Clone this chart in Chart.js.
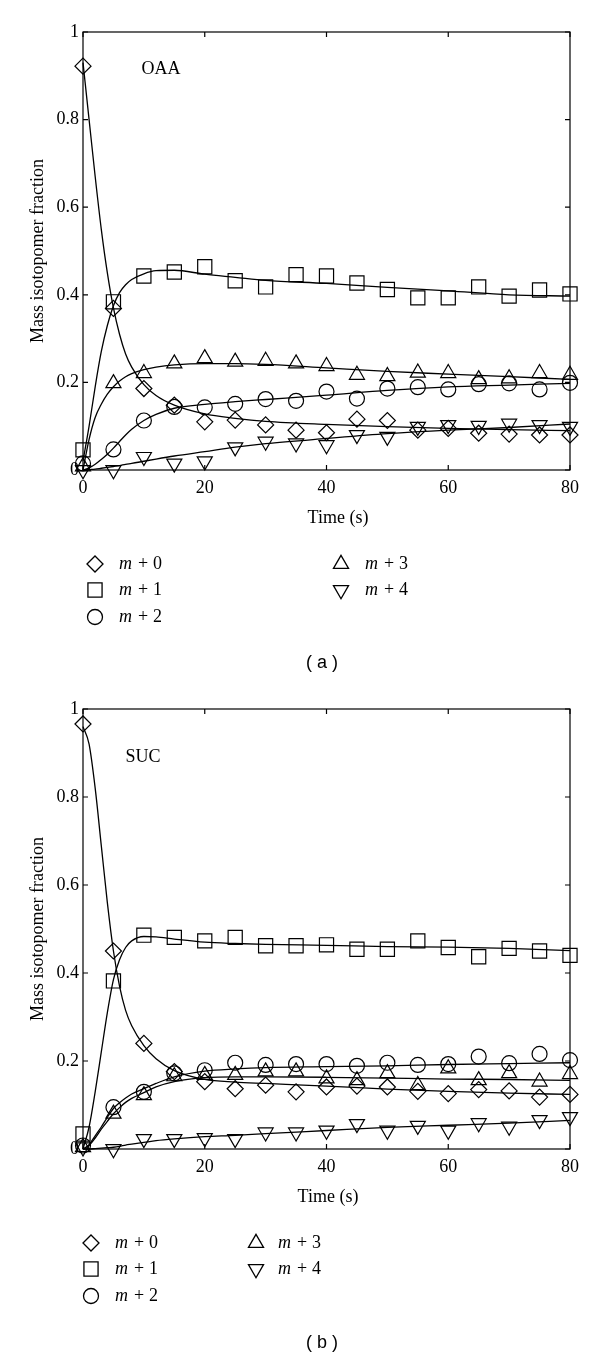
<!DOCTYPE html>
<html><head><meta charset="utf-8">
<script src="https://cdn.jsdelivr.net/npm/chart.js@4.4.0/dist/chart.umd.min.js"></script>
<style>
html,body{margin:0;padding:0;background:#fff;}
#wrap{position:relative;width:600px;height:1357px;}
.box{position:absolute;left:0;width:600px;}
</style></head><body>
<div id="wrap">
<div class="box" style="top:0;height:680px"><canvas id="ca"></canvas></div>
<div class="box" style="top:680px;height:677px"><canvas id="cb"></canvas></div>
</div>
<script>
// ---- data ----
const timePoints = [0,5,10,15,20,25,30,35,40,45,50,55,60,65,70,75,80];
const fitTimes = [0,1,2,3,4,5,6,7,8,10,12,15,20,25,30,40,50,60,70,80];
const seriesLabels = ['m + 0','m + 1','m + 2','m + 3','m + 4'];
const xTickValues = [0,20,40,60,80];
const yTickValues = [0,0.2,0.4,0.6,0.8,1];

// (a) OAA measured
const oaaM0 = [0.922,0.369,0.186,0.148,0.110,0.114,0.103,0.091,0.085,0.116,0.113,0.091,0.095,0.084,0.082,0.080,0.080];
const oaaM1 = [0.046,0.384,0.443,0.452,0.464,0.432,0.418,0.446,0.443,0.427,0.412,0.393,0.393,0.418,0.397,0.411,0.402];
const oaaM2 = [0.015,0.047,0.113,0.144,0.143,0.151,0.162,0.158,0.179,0.163,0.186,0.189,0.184,0.196,0.198,0.184,0.199];
const oaaM3 = [0.008,0.198,0.221,0.243,0.255,0.247,0.249,0.243,0.237,0.217,0.214,0.222,0.221,0.207,0.209,0.221,0.217];
const oaaM4 = [0.000,0.000,0.030,0.015,0.020,0.052,0.065,0.061,0.057,0.080,0.076,0.099,0.103,0.101,0.106,0.103,0.099];
// (a) OAA fitted curves
const oaaFit0 = [0.93,0.80,0.67,0.55,0.45,0.37,0.31,0.265,0.235,0.195,0.17,0.148,0.128,0.118,0.111,0.104,0.099,0.095,0.092,0.090];
const oaaFit1 = [0.02,0.10,0.19,0.27,0.33,0.375,0.405,0.423,0.435,0.448,0.455,0.456,0.447,0.44,0.433,0.426,0.417,0.409,0.400,0.397];
const oaaFit2 = [0,0.005,0.013,0.024,0.036,0.05,0.065,0.08,0.093,0.113,0.127,0.141,0.15,0.156,0.161,0.171,0.182,0.19,0.194,0.198];
const oaaFit3 = [0,0.07,0.12,0.15,0.173,0.19,0.203,0.213,0.22,0.229,0.235,0.24,0.243,0.243,0.241,0.233,0.225,0.219,0.213,0.207];
const oaaFit4 = [0,0.001,0.002,0.004,0.006,0.008,0.01,0.013,0.015,0.02,0.025,0.032,0.042,0.052,0.06,0.072,0.083,0.091,0.097,0.105];

// (b) SUC measured
const sucM0 = [0.966,0.450,0.240,0.176,0.153,0.137,0.145,0.130,0.141,0.143,0.141,0.131,0.126,0.135,0.132,0.118,0.124];
const sucM1 = [0.034,0.382,0.486,0.481,0.473,0.481,0.462,0.462,0.464,0.454,0.454,0.473,0.458,0.437,0.456,0.450,0.440];
const sucM2 = [0.008,0.095,0.130,0.172,0.179,0.196,0.191,0.193,0.193,0.189,0.196,0.191,0.193,0.210,0.195,0.216,0.202];
const sucM3 = [0.004,0.080,0.122,0.165,0.168,0.168,0.176,0.176,0.160,0.156,0.172,0.145,0.183,0.156,0.172,0.153,0.170];
const sucM4 = [0.004,0.000,0.023,0.023,0.025,0.023,0.038,0.038,0.042,0.057,0.042,0.053,0.042,0.059,0.051,0.066,0.073];
// (b) SUC fitted curves
const sucFit0 = [0.96,0.92,0.82,0.69,0.56,0.45,0.37,0.315,0.28,0.235,0.205,0.178,0.158,0.152,0.149,0.143,0.136,0.131,0.127,0.124];
const sucFit1 = [0.0,0.05,0.13,0.22,0.31,0.385,0.43,0.458,0.473,0.483,0.482,0.477,0.47,0.467,0.465,0.463,0.46,0.459,0.456,0.451];
const sucFit2 = [0,0.01,0.03,0.05,0.072,0.092,0.105,0.116,0.125,0.137,0.149,0.164,0.177,0.182,0.185,0.187,0.189,0.192,0.194,0.196];
const sucFit3 = [0,0.008,0.025,0.045,0.063,0.08,0.094,0.106,0.115,0.128,0.141,0.153,0.162,0.164,0.164,0.163,0.161,0.159,0.158,0.156];
const sucFit4 = [0,0,0.001,0.002,0.003,0.004,0.006,0.009,0.011,0.015,0.019,0.023,0.028,0.031,0.035,0.042,0.049,0.054,0.059,0.065];

// ---- styling ----
const SERIF = '"Liberation Serif","Times New Roman",serif';
const markerStyles = [
  {pointStyle:'rectRot', radius:8, rotation:0},
  {pointStyle:'rect', radius:10, rotation:0},
  {pointStyle:'circle', radius:7.5, rotation:0},
  {pointStyle:'triangle', radius:8.7, rotation:0},
  {pointStyle:'triangle', radius:8.7, rotation:180}
];

function pts(xs, ys){ return xs.map((x,i)=>({x:x, y:ys[i]})); }

const framePlugin = {
  id: 'frame',
  afterDraw(chart, args, o) {
    const ctx = chart.ctx, a = chart.chartArea;
    const xs = chart.scales.x, ys = chart.scales.y;
    ctx.save();
    ctx.strokeStyle = '#000'; ctx.lineWidth = 1.2;
    ctx.strokeRect(a.left, a.top, a.right - a.left, a.bottom - a.top);
    ctx.beginPath();
    xTickValues.forEach(v => {
      const px = xs.getPixelForValue(v);
      ctx.moveTo(px, a.bottom); ctx.lineTo(px, a.bottom - 5);
      ctx.moveTo(px, a.top); ctx.lineTo(px, a.top + 5);
    });
    yTickValues.forEach(v => {
      const py = ys.getPixelForValue(v);
      ctx.moveTo(a.left, py); ctx.lineTo(a.left + 5, py);
      ctx.moveTo(a.right, py); ctx.lineTo(a.right - 5, py);
    });
    ctx.stroke();
    ctx.fillStyle = '#000';
    ctx.font = '18px ' + SERIF;
    // panel label
    ctx.textAlign = 'center'; ctx.textBaseline = 'middle';
    ctx.fillText(o.name, o.nameX, o.nameY);
    // axis titles
    ctx.fillText('Time (s)', o.xTitleX, o.xTitleY);
    ctx.save();
    ctx.translate(38, (a.top + a.bottom) / 2);
    ctx.rotate(-Math.PI / 2);
    ctx.fillText('Mass isotopomer fraction', 0, 0);
    ctx.restore();
    // legend
    const cols = [[0,1,2],[3,4]];
    cols.forEach((col, ci) => {
      col.forEach((si, ri) => {
        const my = o.legRows[ri];
        const mx = o.legMarkerX[ci];
        const tx = o.legTextX[ci];
        const ms = markerStyles[si];
        ctx.strokeStyle = '#000'; ctx.lineWidth = 1.3;
        ctx.fillStyle = 'rgba(0,0,0,0)';
        Chart.helpers.drawPoint(ctx, {pointStyle: ms.pointStyle, radius: ms.radius, rotation: ms.rotation, borderWidth: 1.3}, mx, my);
        ctx.fillStyle = '#000';
        ctx.textAlign = 'left'; ctx.textBaseline = 'middle';
        ctx.font = 'italic 18px ' + SERIF;
        ctx.fillText('m', tx, my);
        ctx.font = '18px ' + SERIF;
        ctx.textAlign = 'center';
        ctx.fillText('+', tx + 24, my);
        ctx.textAlign = 'left';
        ctx.fillText(seriesLabels[si].slice(-1), tx + 34, my);
      });
    });
    // caption
    ctx.fillStyle = '#000';
    ctx.font = '18px "Liberation Sans", Arial, sans-serif';
    ctx.textAlign = 'center'; ctx.textBaseline = 'middle';
    ctx.fillText(o.caption, o.capX, o.capY);
    ctx.restore();
  }
};

function makeChart(id, measured, fits, opts) {
  const datasets = [];
  measured.forEach((m, i) => {
    datasets.push({
      label: seriesLabels[i],
      data: pts(timePoints, m),
      showLine: false,
      pointStyle: markerStyles[i].pointStyle,
      pointRadius: markerStyles[i].radius,
      pointRotation: markerStyles[i].rotation,
      pointBorderWidth: 1.2,
      pointBorderColor: '#000',
      pointBackgroundColor: 'rgba(0,0,0,0)',
      clip: false
    });
  });
  fits.forEach((f, i) => {
    datasets.push({
      label: seriesLabels[i] + ' fit',
      data: pts(fitTimes, f),
      showLine: true,
      borderColor: '#000',
      borderWidth: 1.3,
      pointRadius: 0,
      cubicInterpolationMode: 'monotone',
      fill: false,
      clip: false
    });
  });
  return new Chart(document.getElementById(id), {
    type: 'scatter',
    data: { datasets },
    options: {
      responsive: true,
      maintainAspectRatio: false,
      animation: false,
      events: [],
      layout: { padding: { left: 0, right: 30, top: opts.padTop, bottom: 0 } },
      plugins: { legend: { display: false }, tooltip: { enabled: false }, frame: opts },
      scales: {
        x: {
          type: 'linear', min: 0, max: 80,
          afterFit: s => { s.height = opts.xAxisH; s.paddingLeft = 0; s.paddingRight = 0; },
          grid: { display: false, drawTicks: false },
          border: { display: false },
          ticks: { stepSize: 20, padding: 7, color: '#000', font: { family: SERIF, size: 18 }, maxRotation: 0 }
        },
        y: {
          type: 'linear', min: 0, max: 1,
          afterFit: s => { s.width = 83; },
          grid: { display: false, drawTicks: false },
          border: { display: false },
          ticks: { stepSize: 0.2, padding: 4, color: '#000', font: { family: SERIF, size: 18 },
                   callback: v => String(Math.round(v * 10) / 10) }
        }
      }
    },
    plugins: [framePlugin]
  });
}

makeChart('ca', [oaaM0,oaaM1,oaaM2,oaaM3,oaaM4], [oaaFit0,oaaFit1,oaaFit2,oaaFit3,oaaFit4], {
  padTop: 32, xAxisH: 210, name: 'OAA', nameX: 161, nameY: 69,
  xTitleX: 338, xTitleY: 518,
  legRows: [564, 590, 617], legMarkerX: [95, 341], legTextX: [119, 365],
  caption: '( a )', capX: 322, capY: 663
});
makeChart('cb', [sucM0,sucM1,sucM2,sucM3,sucM4], [sucFit0,sucFit1,sucFit2,sucFit3,sucFit4], {
  padTop: 29, xAxisH: 208, name: 'SUC', nameX: 143, nameY: 77,
  xTitleX: 328, xTitleY: 517,
  legRows: [563, 589, 616], legMarkerX: [91, 256], legTextX: [115, 278],
  caption: '( b )', capX: 322, capY: 663
});
</script>
</body></html>
